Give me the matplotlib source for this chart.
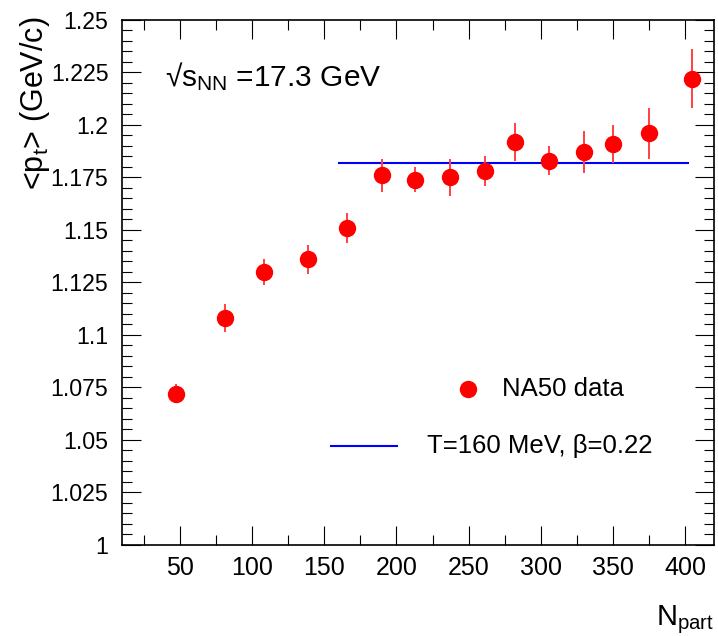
import numpy as np
import matplotlib.pyplot as plt
from matplotlib.ticker import MultipleLocator, FuncFormatter

plt.rcParams['font.family'] = ['Liberation Sans', 'DejaVu Sans']
plt.rcParams['mathtext.default'] = 'regular'

# NA50 mean transverse momentum vs number of participants
npart = [47, 81, 108, 139, 166, 190, 213, 237, 261, 282, 306, 330, 350, 375, 405]
mean_pt = [1.072, 1.108, 1.130, 1.136, 1.151, 1.176, 1.174, 1.175, 1.178,
           1.192, 1.183, 1.187, 1.191, 1.196, 1.222]
pt_err = [0.0045, 0.0068, 0.006, 0.007, 0.007, 0.008, 0.006, 0.009, 0.007,
          0.009, 0.007, 0.010, 0.009, 0.012, 0.014]

# blast-wave expectation, flat over the fitted range
model_x = [160, 402]
model_pt = [1.182, 1.182]

fig = plt.figure(figsize=(7.18, 6.36), dpi=100)
ax = fig.add_axes([0.1703, 0.1431, 0.8241, 0.8255])

ax.plot(model_x, model_pt, color='#0000ff', lw=1.5, zorder=2)
ax.errorbar(npart, mean_pt, yerr=pt_err, fmt='none', ecolor='#ff4040',
            elinewidth=1.4, capsize=0, zorder=3)
ax.plot(npart, mean_pt, 'o', color='red', ms=11.5, mec='red', zorder=4)

ax.set_xlim(10, 420)
ax.set_ylim(1.0, 1.25)
ax.xaxis.set_major_locator(MultipleLocator(50))
ax.xaxis.set_minor_locator(MultipleLocator(25))
ax.yaxis.set_major_locator(MultipleLocator(0.025))
ax.yaxis.set_minor_locator(MultipleLocator(0.005))
ax.yaxis.set_major_formatter(FuncFormatter(lambda v, p: '%g' % round(v, 3)))

ax.tick_params(which='both', direction='in', top=True, right=True,
               width=0.8, color='black')
ax.tick_params(which='major', length=13.5)
ax.tick_params(which='minor', length=7)
ax.tick_params(axis='x', which='major', pad=8, labelsize=18)
ax.tick_params(axis='y', which='major', pad=10, labelsize=16.7)
for s in ax.spines.values():
    s.set_linewidth(1.2)

fig.text(35 / 718, 1 - 17 / 636, r'<p$_t$> (GeV/c)', rotation=90,
         ha='center', va='top', fontsize=22)
fig.text(714 / 718, 0, r'N$_{part}$', ha='right', va='bottom', fontsize=21)

fig.text(165 / 718, 1 - 86 / 636, r'√s$_{NN}$ =17.3 GeV', ha='left',
         va='baseline', fontsize=21.5)

# legend entries
fig.lines.append(plt.Line2D([468 / 718], [1 - 389 / 636], marker='o',
                            color='red', ms=11.5, transform=fig.transFigure))
fig.text(502 / 718, 1 - 389 / 636, 'NA50 data', ha='left', va='center',
         fontsize=18.5)
fig.lines.append(plt.Line2D([331 / 718, 397 / 718], [1 - 446 / 636] * 2,
                            color='#0000ff', lw=1.5, transform=fig.transFigure))
fig.text(427 / 718, 1 - 446 / 636, 'T=160 MeV, β=0.22', ha='left',
         va='center', fontsize=18.5)

fig.savefig('out.png', dpi=100)
